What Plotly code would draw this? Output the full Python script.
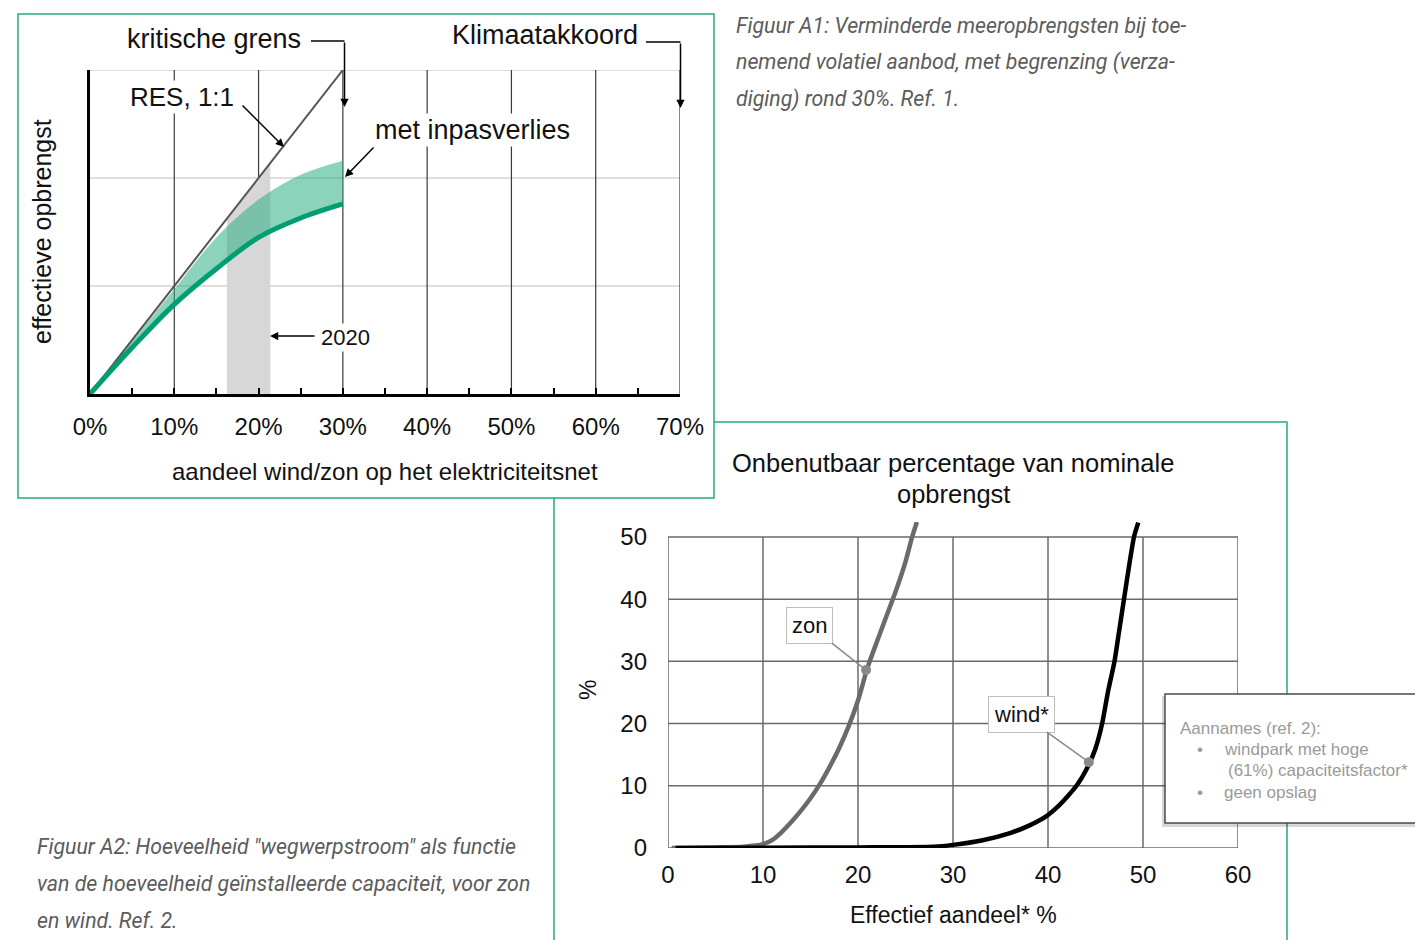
import plotly.graph_objects as go

# ---------------- data: chart 1 ----------------
pct_ticks = [0, 10, 20, 30, 40, 50, 60, 70]
y1_grid = [1, 2, 3]
x_share = [0, 5, 10, 15, 20, 25, 30]
inpas_lower = [0, 0.43, 0.83, 1.16, 1.45, 1.63, 1.76]
inpas_upper = [0, 0.49, 0.97, 1.45, 1.80, 2.03, 2.16]
res_x = [0, 30]
res_slope = 0.1
band_2020 = [16.25, 21.4]

# ---------------- data: chart 2 ----------------
x2_ticks = [0, 10, 20, 30, 40, 50, 60]
y2_ticks = [0, 10, 20, 30, 40, 50]
zon_x = [0.4, 5, 8, 10, 11, 12, 13, 14, 15, 16, 17, 18, 19, 20, 21, 22, 23, 24, 25, 25.7, 26.2]
zon_y = [0, 0.1, 0.2, 0.6, 1.3, 2.6, 4.2, 6.0, 8.0, 10.3, 13.0, 16.0, 19.5, 23.7, 29.0, 33.2, 37.3, 41.4, 46.0, 50.0, 52.4]
wind_x = [0.8, 10, 20, 28, 30, 33, 36, 38, 40, 41, 42, 43, 44, 45, 45.7, 46.3, 47, 47.5, 48, 48.5, 49.05, 49.5]
wind_y = [0, 0.05, 0.1, 0.2, 0.5, 1.2, 2.4, 3.6, 5.3, 6.6, 8.2, 10.0, 12.5, 16.0, 20.0, 25.0, 30.0, 35.0, 40.0, 45.0, 50.0, 52.3]
zon_marker = (20.85, 28.6)
wind_marker = (44.3, 13.8)

W, H = 1423, 940
OFF = 8  # page body margin of the viewer


def px(x):
    return min(max((x - OFF) / W, 0), 1)


def py(y):
    return min(max(1 - (y - OFF) / H, 0), 1)


FONT = "Liberation Sans, Arial, Helvetica, sans-serif"
GREEN_BORDER = "#26a982"

fig = go.Figure()

# ---- chart 1 traces ----
g_top = [v * res_slope for v in band_2020]
fig.add_trace(go.Scatter(
    x=[band_2020[0], band_2020[0], band_2020[1], band_2020[1]],
    y=[0, g_top[0], g_top[1], 0], fill="toself", fillcolor="#d7d7d7",
    line=dict(width=0), mode="lines", xaxis="x", yaxis="y", hoverinfo="skip"))
fig.add_trace(go.Scatter(x=x_share, y=inpas_lower, mode="lines",
                         line=dict(width=0, shape="spline"), xaxis="x", yaxis="y"))
fig.add_trace(go.Scatter(x=x_share, y=inpas_upper, mode="lines", fill="tonexty",
                         fillcolor="rgba(46,175,131,0.55)",
                         line=dict(width=0, shape="spline"), xaxis="x", yaxis="y"))
fig.add_trace(go.Scatter(x=res_x, y=[v * res_slope for v in res_x], mode="lines",
                         line=dict(color="#555555", width=2), xaxis="x", yaxis="y"))
fig.add_trace(go.Scatter(x=x_share, y=inpas_lower, mode="lines",
                         line=dict(color="#009e72", width=5, shape="spline"), xaxis="x", yaxis="y"))

# ---- chart 2 traces ----
fig.add_trace(go.Scatter(x=zon_x, y=zon_y, mode="lines",
                         line=dict(color="#6a6a6a", width=4.5, shape="spline", smoothing=0.6),
                         xaxis="x2", yaxis="y2"))
fig.add_trace(go.Scatter(x=wind_x, y=wind_y, mode="lines",
                         line=dict(color="#000000", width=4.5, shape="spline", smoothing=0.6),
                         xaxis="x2", yaxis="y2"))
fig.add_trace(go.Scatter(x=[zon_marker[0], wind_marker[0]], y=[zon_marker[1], wind_marker[1]],
                         mode="markers", marker=dict(color="#8a8a8a", size=10),
                         xaxis="x2", yaxis="y2"))

shapes = []
# boxes (chart 2 first so that chart 1 box covers it)
shapes.append(dict(type="rect", xref="paper", yref="paper", x0=px(554), x1=px(1287),
                   y0=py(960), y1=py(422), line=dict(color=GREEN_BORDER, width=1.5),
                   fillcolor="white", layer="below"))
shapes.append(dict(type="rect", xref="paper", yref="paper", x0=px(18), x1=px(714),
                   y0=py(498), y1=py(14), line=dict(color=GREEN_BORDER, width=1.5),
                   fillcolor="white", layer="below"))
# chart 1 grid
for v in y1_grid:
    shapes.append(dict(type="line", xref="x", yref="y", x0=0, x1=70, y0=v, y1=v,
                       line=dict(color="#bdbdbd", width=1.2), layer="below"))
for v in pct_ticks[1:]:
    shapes.append(dict(type="line", xref="x", yref="y", x0=v, x1=v, y0=0, y1=3,
                       line=dict(color="#3a3a3a", width=1.2), layer="below"))
# chart 2 grid
for v in x2_ticks[1:-1]:
    shapes.append(dict(type="line", xref="x2", yref="y2", x0=v, x1=v, y0=0, y1=50,
                       line=dict(color="#6a6a6a", width=1.5), layer="below"))
for v in y2_ticks[1:-1]:
    shapes.append(dict(type="line", xref="x2", yref="y2", x0=0, x1=60, y0=v, y1=v,
                       line=dict(color="#6a6a6a", width=1.5), layer="below"))
shapes.append(dict(type="rect", xref="x2", yref="y2", x0=0, x1=60, y0=0, y1=50,
                   line=dict(color="#6a6a6a", width=1.5), layer="below"))
# connector lines for labels at top of chart 1
shapes.append(dict(type="line", xref="paper", yref="paper", x0=px(311), x1=px(344.5),
                   y0=py(41), y1=py(41), line=dict(color="black", width=1.5)))
shapes.append(dict(type="line", xref="paper", yref="paper", x0=px(646), x1=px(680.5),
                   y0=py(42), y1=py(42), line=dict(color="black", width=1.5)))
# aannames box (open at the right: it runs off the page)
shapes.append(dict(type="rect", xref="paper", yref="paper", x0=px(1162), x1=1,
                   y0=py(827), y1=py(696), line=dict(width=0),
                   fillcolor="rgba(0,0,0,0.16)", layer="above"))
shapes.append(dict(type="rect", xref="paper", yref="paper", x0=px(1165), x1=1,
                   y0=py(823), y1=py(694), line=dict(width=0),
                   fillcolor="white", layer="above"))
bx0, bx1, by0, by1 = px(1165), 1.0, py(823), py(694)
shapes.append(dict(type="path", xref="paper", yref="paper",
                   path=f"M {bx1},{by1} L {bx0},{by1} L {bx0},{by0} L {bx1},{by0}",
                   line=dict(color="#4a4a4a", width=1.5), layer="above"))

ann = []


def text(x, y, s, size, color="#111", xanchor="center", bg=None, angle=0, family=FONT):
    d = dict(xref="paper", yref="paper", x=px(x), y=py(y), text=s, showarrow=False,
             xanchor=xanchor, yanchor="middle", textangle=angle,
             font=dict(size=size, color=color, family=family))
    if bg:
        d["bgcolor"] = bg
    ann.append(d)


def arrow(x0, y0, x1, y1):
    ann.append(dict(xref="paper", yref="paper", x=px(x1), y=py(y1), text="",
                    showarrow=True, axref="pixel", ayref="pixel", ax=x0 - x1, ay=y0 - y1,
                    arrowhead=2, arrowsize=1.1, arrowwidth=1.5, arrowcolor="black", standoff=0))


# chart 1 labels
text(213.5, 39, "kritische grens", 27)
text(545, 35, "Klimaatakkoord", 27)
text(182, 97, "RES, 1:1", 26, bg="white")
text(472.5, 130, "met inpasverlies", 27, bg="white")
text(345.5, 337, "2020", 22, bg="white")
text(385, 471, "aandeel wind/zon op het elektriciteitsnet", 24)
text(42, 232, "effectieve opbrengst", 25, angle=-90)
arrow(344.5, 41, 344.5, 107)
arrow(680.5, 42, 680.5, 108)
arrow(241, 104, 284, 147)
arrow(375, 146, 345, 177)
arrow(316, 336, 270, 336)

# chart 2 labels
text(953, 463, "Onbenutbaar percentage van nominale", 25.5)
text(953, 494, "opbrengst", 25.5)
text(953, 915, "Effectief aandeel* %", 23)
text(588, 690, "%", 23, angle=-90)
ann.append(dict(xref="x2", yref="y2", x=zon_marker[0], y=zon_marker[1], text="zon",
                showarrow=True, axref="pixel", ayref="pixel", ax=-57, ay=-45,
                arrowhead=0, arrowwidth=1.5, arrowcolor="#8a8a8a", standoff=0,
                bgcolor="white", bordercolor="#bdbdbd", borderwidth=1, borderpad=5,
                font=dict(size=22, color="#111", family=FONT)))
ann.append(dict(xref="x2", yref="y2", x=wind_marker[0], y=wind_marker[1], text="wind*",
                showarrow=True, axref="pixel", ayref="pixel", ax=-67, ay=-48,
                arrowhead=0, arrowwidth=1.5, arrowcolor="#8a8a8a", standoff=0,
                bgcolor="white", bordercolor="#bdbdbd", borderwidth=1, borderpad=5,
                font=dict(size=22, color="#111", family=FONT)))

# aannames text
GREY_T = "#9a9a9a"
text(1178, 728, "Aannames (ref. 2):", 17, color=GREY_T, xanchor="left")
text(1195, 749, "•", 17, color=GREY_T, xanchor="left")
text(1222, 749, "windpark met hoge", 17, color=GREY_T, xanchor="left")
text(1226, 770, "(61%) capaciteitsfactor*", 17, color=GREY_T, xanchor="left")
text(1195, 792, "•", 17, color=GREY_T, xanchor="left")
text(1222, 792, "geen opslag", 17, color=GREY_T, xanchor="left")

# captions
CAP = "#5c5c5c"
CAPF = "Roboto, sans-serif"
for i, line in enumerate(["Figuur A1: Verminderde meeropbrengsten bij toe-",
                          "nemend volatiel aanbod, met begrenzing (verza-",
                          "diging) rond 30%. Ref. 1."]):
    text(734, 25 + 37 * i, "<i>" + line + "</i>", 21.3, color=CAP, xanchor="left", family=CAPF)
for i, line in enumerate(["Figuur A2: Hoeveelheid \"wegwerpstroom\" als functie",
                          "van de hoeveelheid geïnstalleerde capaciteit, voor zon",
                          "en wind. Ref. 2."]):
    text(35, 846 + 37 * i, "<i>" + line + "</i>", 21.3, color=CAP, xanchor="left", family=CAPF)

fig.update_layout(
    width=W, height=H, autosize=False, margin=dict(l=0, r=0, t=0, b=0, pad=0, autoexpand=False),
    paper_bgcolor="white", plot_bgcolor="rgba(0,0,0,0)", showlegend=False,
    font=dict(family=FONT, color="#111"),
    xaxis=dict(domain=[px(90), px(680)], range=[0, 70], tickvals=pct_ticks,
               ticktext=[f"{v}%" for v in pct_ticks], ticks="inside", ticklen=6,
               tickwidth=2, tickcolor="black", showgrid=False, zeroline=False,
               showline=True, linewidth=3, linecolor="black", automargin=False,
               tickfont=dict(size=24, color="#111"), ticklabelstandoff=9,
               minor=dict(dtick=5, ticks="inside", ticklen=6, tickwidth=2,
                          tickcolor="black", showgrid=False),
               anchor="y"),
    yaxis=dict(domain=[py(394), py(70)], range=[0, 3], showticklabels=False, ticks="",
               showgrid=False, zeroline=False, showline=True, linewidth=3,
               linecolor="black", anchor="x", automargin=False),
    xaxis2=dict(domain=[px(668), px(1238)], range=[0, 60], tickvals=x2_ticks,
                showgrid=False, zeroline=False, showline=False, ticks="", automargin=False,
                tickfont=dict(size=24, color="#111"), ticklabelstandoff=10, anchor="y2"),
    yaxis2=dict(domain=[py(848), py(522)], range=[0, 52.4], tickvals=y2_ticks,
                showgrid=False, zeroline=False, showline=False, ticks="", automargin=False,
                tickfont=dict(size=24, color="#111"), ticklabelstandoff=20, anchor="x2"),
    shapes=shapes, annotations=ann,
)

fig.write_html("out.html")
